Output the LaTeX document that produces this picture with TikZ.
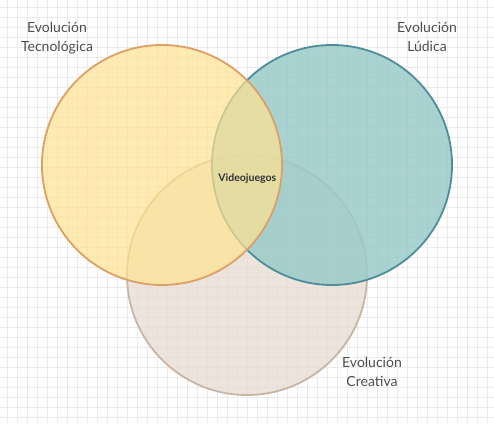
\documentclass[tikz,border=0pt]{standalone}
\usepackage{fontspec}
\setmainfont{Lato}
\definecolor{gridc}{HTML}{EAEAEA}
\definecolor{yelfill}{HTML}{FFE391}
\definecolor{yeldraw}{HTML}{DE9F66}
\definecolor{tealfill}{HTML}{9ACBC8}
\definecolor{tealdraw}{HTML}{4E8E98}
\definecolor{beigefill}{HTML}{E8DDD2}
\definecolor{beigedraw}{HTML}{C9B5A3}
\definecolor{labelc}{HTML}{4D4D4D}
\tikzset{
  gridline/.style={draw=gridc, line width=0.6pt},
  setcircle/.style={circle, minimum size=240pt, inner sep=0pt, line width=1.8pt},
  setlabel/.style={text=labelc, font=\fontsize{14}{19}\selectfont, align=center, inner sep=0pt, anchor=base},
  centerlabel/.style={text=black!80, font=\bfseries\fontsize{10.5}{12}\selectfont, inner sep=0pt, anchor=base}
}
\begin{document}
\begin{tikzpicture}[x=1pt,y=-1pt]
\useasboundingbox (0,0) rectangle (494,423);
\fill[white] (0,0) rectangle (494,423);
\foreach \i in {0,...,48} \draw[gridline] (7.5+10*\i,0) -- (7.5+10*\i,423);
\foreach \j in {0,...,41} \draw[gridline] (0,7+10*\j) -- (494,7+10*\j);
\node[setcircle, draw=beigedraw, fill=beigefill, fill opacity=0.75] (crea) at (247,275) {};
\node[setcircle, draw=tealdraw, fill=tealfill, fill opacity=0.85] (lud) at (332,165) {};
\node[setcircle, draw=yeldraw, fill=yelfill, fill opacity=0.7] (tec) at (162,165) {};
\node[setlabel] (ltec) at (57,51.7) {Evolución\\Tecnológica};
\node[setlabel] (llud) at (427,51.7) {Evolución\\Lúdica};
\node[setlabel] (lcrea) at (372,386.7) {Evolución\\Creativa};
\node[centerlabel] (video) at (247.3,181.7) {Videojuegos};
\end{tikzpicture}
\end{document}
